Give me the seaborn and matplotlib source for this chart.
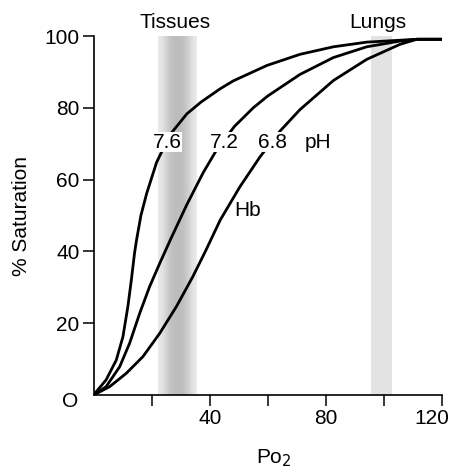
import numpy as np
import pandas as pd
import matplotlib
matplotlib.use("Agg")
import matplotlib.pyplot as plt
import matplotlib.transforms as mtransforms
import seaborn as sns

# Data
po2_76 = [0, 0.9, 4.3, 7.8, 10.1, 11.8, 13.0, 14.1, 14.8, 16.3, 18.3, 21.7, 26.3, 32.1, 37.0, 43.6, 48.1, 59.7, 71.1, 82.6, 94.1, 111.4, 120.0]
sat_76 = [0, 0.9, 4.2, 9.7, 16.2, 24.6, 32.0, 39.5, 43.2, 50.0, 56.2, 64.8, 72.5, 78.3, 81.6, 85.3, 87.5, 91.8, 94.9, 97.0, 98.3, 99.1, 99.1]

po2_72 = [0, 4.3, 9.0, 12.4, 15.9, 19.3, 22.8, 26.6, 32.1, 37.8, 42.4, 48.5, 55.0, 60.0, 71.1, 82.6, 94.1, 105.6, 111.4, 120.0]
sat_72 = [0, 2.3, 7.9, 14.4, 22.8, 30.2, 36.7, 43.5, 53.0, 62.0, 68.3, 74.8, 80.0, 83.3, 89.3, 94.0, 97.0, 98.6, 99.1, 99.1]

po2_68 = [0, 5.5, 11.2, 17.0, 22.8, 28.5, 34.2, 38.8, 43.6, 50.4, 57.3, 64.2, 71.1, 82.6, 94.1, 105.6, 111.4, 120.0]
sat_68 = [0, 2.3, 6.0, 10.7, 17.2, 24.6, 33.0, 40.5, 48.7, 58.0, 66.3, 73.5, 79.5, 87.6, 93.5, 97.7, 99.1, 99.1]

ph_labels = ["7.6", "7.2", "6.8"]
ytick_vals = [20, 40, 60, 80, 100]
xtick_vals = [20, 40, 60, 80, 100, 120]
xtick_labels = ["", "40", "", "80", "", "120"]

tissues_band = (22.2, 35.5)
lungs_band = (95.6, 102.8)

df = pd.concat([
    pd.DataFrame({"po2": po2_76, "sat": sat_76, "pH": "7.6"}),
    pd.DataFrame({"po2": po2_72, "sat": sat_72, "pH": "7.2"}),
    pd.DataFrame({"po2": po2_68, "sat": sat_68, "pH": "6.8"}),
], ignore_index=True)

sns.set_style("white")
plt.rcParams["font.family"] = ["Liberation Sans", "DejaVu Sans"]
plt.rcParams["text.color"] = "black"
plt.rcParams["axes.labelcolor"] = "black"
plt.rcParams["xtick.color"] = "black"
plt.rcParams["ytick.color"] = "black"

FS = 15

fig = plt.figure(figsize=(4.5, 4.68), dpi=100)
ax = fig.add_axes([0.208, 0.156, 0.774, 0.767])

# Tissues gradient band
grad = np.array([0.91, 0.87, 0.80, 0.75, 0.74, 0.74, 0.75, 0.79, 0.86, 0.92])
ax.imshow(grad[np.newaxis, :], cmap="gray", vmin=0, vmax=1, aspect="auto",
          extent=[tissues_band[0], tissues_band[1], 0, 100], interpolation="bicubic",
          zorder=0)
ax.axvspan(lungs_band[0], lungs_band[1], ymin=0, ymax=1, color="#e3e3e3", lw=0, zorder=0)

sns.lineplot(data=df, x="po2", y="sat", units="pH", estimator=None, sort=False,
             color="black", lw=2.0, ax=ax, legend=False, zorder=2)
for ln in ax.lines:
    ln.set_solid_joinstyle("round")
    ln.set_solid_capstyle("round")

ax.set_xlim(0, 120)
ax.set_ylim(0, 100)
ax.set_xticks(xtick_vals)
ax.set_xticklabels(xtick_labels)
ax.set_yticks(ytick_vals)
ax.set_yticklabels([str(v) for v in ytick_vals])
ax.tick_params(axis="both", direction="out", length=8, width=1.1, color="black",
               labelsize=FS, pad=2, left=True, bottom=True)
for s in ["top", "right"]:
    ax.spines[s].set_visible(False)
for s in ["left", "bottom"]:
    ax.spines[s].set_color("black")
    ax.spines[s].set_linewidth(1.2)

# shift the "120" label left so it stays inside the figure
lbl120 = ax.get_xticklabels()[-1]
lbl120.set_transform(lbl120.get_transform() +
                     mtransforms.ScaledTranslation(-10 / 100, 0, fig.dpi_scale_trans))

ax.text(-8.2, -1.9, "O", ha="center", va="center", fontsize=FS, clip_on=False)

ax.set_ylabel("% Saturation", fontsize=FS)
ax.yaxis.set_label_coords(-0.18, 0.5)
ax.set_xlabel("Po$_2$", fontsize=FS)
ax.xaxis.set_label_coords(0.518, -0.145)

bb = dict(facecolor="white", edgecolor="none", pad=0.5)
label_x = [25.3, 44.9, 61.5]
for lab, xx in zip(ph_labels, label_x):
    ax.text(xx, 70.4, lab, ha="center", va="center", fontsize=FS, bbox=bb, zorder=3)
ax.text(77.4, 70.4, "pH", ha="center", va="center", fontsize=FS, zorder=3)
ax.text(52.9, 51.3, "Hb", ha="center", va="center", fontsize=FS, zorder=3)
ax.text(28.0, 103.8, "Tissues", ha="center", va="center", fontsize=FS, clip_on=False)
ax.text(98.0, 103.8, "Lungs", ha="center", va="center", fontsize=FS, clip_on=False)

fig.savefig("out.png", dpi=100, facecolor="white")
